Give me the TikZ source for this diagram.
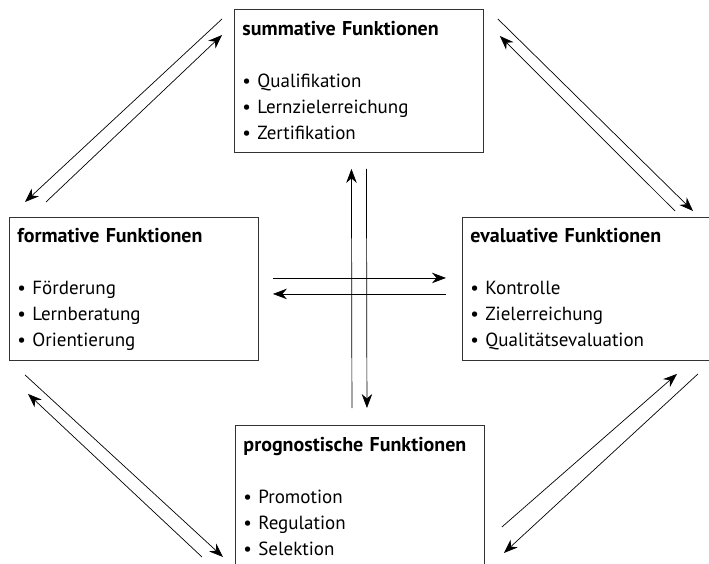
\documentclass[tikz,border=0pt]{standalone}
\usepackage{fontspec}
\setmainfont{PT Sans}
\usetikzlibrary{positioning, arrows.meta}

\tikzset{
    funcbox/.style={rectangle, draw=black!80, line width=0.9pt, anchor=north west,
        minimum width=249pt, minimum height=143pt, text width=233pt, inner xsep=8pt,
        align=left, font=\fontsize{19}{26}\selectfont},
    flow/.style={-{Stealth[length=14pt, width=10.5pt, inset=4.5pt]}, line width=0.7pt}
}
\newcommand{\boxtitle}[1]{{\fontsize{20}{26}\selectfont\bfseries #1}}

\begin{document}
\begin{tikzpicture}[x=1pt, y=-1pt]
        \useasboundingbox (0,0) rectangle (709,564);
        \clip (0,0) rectangle (709,564);

        \node at (234,9)   [funcbox] (summ) {\boxtitle{summative Funktionen}\\[26pt]\textbullet{} Qualifikation\\\textbullet{} Lernzielerreichung\\\textbullet{} Zertifikation};
        \node at (9,217)   [funcbox] (form) {\boxtitle{formative Funktionen}\\[26pt]\textbullet{} Förderung\\\textbullet{} Lernberatung\\\textbullet{} Orientierung};
        \node at (462,217) [funcbox] (eval) {\boxtitle{evaluative Funktionen}\\[26pt]\textbullet{} Kontrolle\\\textbullet{} Zielerreichung\\\textbullet{} Qualitätsevaluation};
        \node at (235,425) [funcbox] (prog) {\boxtitle{prognostische Funktionen}\\[26pt]\textbullet{} Promotion\\\textbullet{} Regulation\\\textbullet{} Selektion};

        % diagonal pairs
        \path   ([shift={(-12,10)}]summ.north west)   edge[flow]   ([shift={(16,-15)}]form.north west)
                ([shift={(37,-15)}]form.north west)   edge[flow]   ([shift={(-12,26)}]summ.north west)
                ([shift={(14,10)}]summ.north east)    edge[flow]   ([shift={(231,-6)}]eval.north west)
                ([shift={(213,-6)}]eval.north west)   edge[flow]   ([shift={(16,27)}]summ.north east)
                ([shift={(16,14)}]form.south west)    edge[flow]   ([shift={(-12,132)}]prog.north west)
                ([shift={(-33,132)}]prog.north west)  edge[flow]   ([shift={(19,33)}]form.south west)
                ([shift={(17,102)}]prog.north east)   edge[flow]   ([shift={(215,13)}]eval.south west)
                ([shift={(236,13)}]eval.south west)   edge[flow]   ([shift={(19,128)}]prog.north east)
            ;

        % cross in the middle
        \path   ([shift={(-8,-17)}]prog.north)   edge[flow]   ([shift={(-7.5,16)}]summ.south)
                ([shift={(7.5,16)}]summ.south)   edge[flow]   ([shift={(7,-17)}]prog.north)
                ([shift={(14,-11)}]form.east)    edge[flow]   ([shift={(-16,-11)}]eval.west)
                ([shift={(-16,5)}]eval.west)     edge[flow]   ([shift={(14,5)}]form.east)
            ;
\end{tikzpicture}
\end{document}
